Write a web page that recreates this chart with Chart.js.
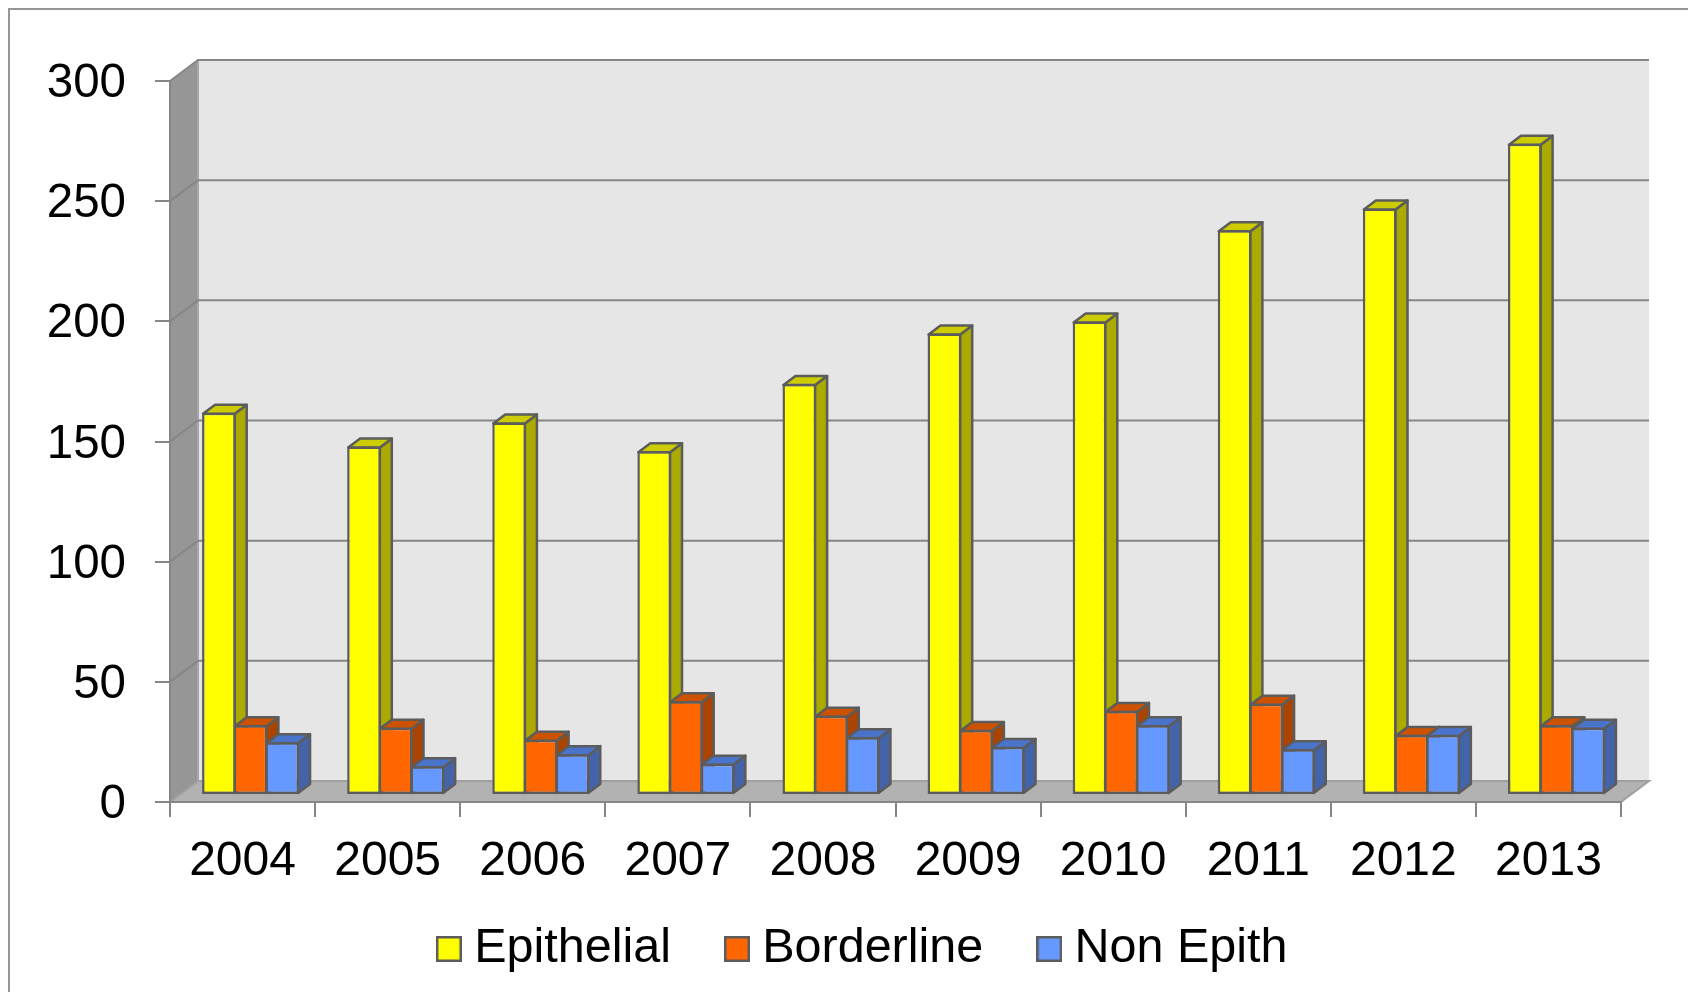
<!DOCTYPE html>
<html>
<head>
<meta charset="utf-8">
<title>Epithelial, Borderline, Non Epith 2004-2013</title>
<script src="https://cdn.jsdelivr.net/npm/chart.js@4/dist/chart.umd.min.js"></script>
<style>
  html, body { margin: 0; padding: 0; background: #fff; }
  canvas { display: block; }
</style>
</head>
<body>
<canvas id="myChart" width="1688" height="992"></canvas>
<script>
var years = ['2004', '2005', '2006', '2007', '2008', '2009', '2010', '2011', '2012', '2013'];
var epithelial = [159, 145, 155, 143, 171, 192, 197, 235, 244, 271];
var borderline = [29, 28, 23, 39, 33, 27, 35, 38, 25, 29];
var nonEpith = [22, 12, 17, 13, 24, 20, 29, 19, 25, 28];
var yTicks = [0, 50, 100, 150, 200, 250, 300];

var faceColors = ['#FFFF00', '#FF6600', '#6699FF'];
var sideColors = ['#AAAA00', '#AA4400', '#4464AA'];
var topColors = ['#CCCC00', '#CC5200', '#4A74CC'];
var edge = '#5C5C5C';
var gridColor = '#868686';
var font = 'Liberation Sans, Arial, sans-serif';

// depth of the box and of the bars, in pixels
var wallDx = 28, wallDy = -21;
var barOffX = 8, barOffY = -7;
var barDx = 12, barDy = -9;

function swatch(color) {
  var c = document.createElement('canvas');
  c.width = 26;
  c.height = 26;
  var g = c.getContext('2d');
  g.fillStyle = color;
  g.fillRect(0, 0, 26, 26);
  g.strokeStyle = edge;
  g.lineWidth = 2.5;
  g.strokeRect(1.25, 1.25, 23.5, 23.5);
  return c;
}

function poly(ctx, pts, fill, stroke) {
  ctx.beginPath();
  ctx.moveTo(pts[0][0], pts[0][1]);
  for (var i = 1; i < pts.length; i++) ctx.lineTo(pts[i][0], pts[i][1]);
  ctx.closePath();
  ctx.fillStyle = fill;
  ctx.fill();
  if (stroke) {
    ctx.strokeStyle = stroke;
    ctx.lineWidth = 2.5;
    ctx.lineJoin = 'round';
    ctx.stroke();
  }
}

var box3d = {
  id: 'box3d',
  afterLayout: function (chart) {
    // the legend sits further right and higher than chart.js would put it
    var l = chart.legend;
    l.left += 37.2;
    l.right += 37.2;
    l.top -= 27.25;
    l.bottom -= 27.25;

    // y labels are centred on the digits in the original, not on the line box
    var s = chart.scales.y, drawLabels = s.drawLabels;
    s.drawLabels = function (area) {
      chart.ctx.save();
      chart.ctx.translate(0, 3);
      drawLabels.call(s, area);
      chart.ctx.restore();
    };
  },
  beforeDraw: function (chart) {
    var ctx = chart.ctx, a = chart.chartArea, y = chart.scales.y;
    ctx.save();

    // outer frame, open on the right and at the bottom
    ctx.strokeStyle = '#969696';
    ctx.lineWidth = 2;
    ctx.beginPath();
    ctx.moveTo(9, chart.height);
    ctx.lineTo(9, 9);
    ctx.lineTo(chart.width, 9);
    ctx.stroke();

    var bx = a.left + wallDx, tx = a.right + wallDx;
    var by = a.bottom + wallDy, ty = a.top + wallDy;
    poly(ctx, [[bx, ty], [tx, ty], [tx, by], [bx, by]], '#E6E6E6');
    poly(ctx, [[a.left, a.top], [bx, ty], [bx, by], [a.left, a.bottom]], '#969696');
    poly(ctx, [[a.left, a.bottom], [bx, by], [tx, by], [a.right, a.bottom]], '#B2B2B2');

    ctx.strokeStyle = '#A6A6A6';
    ctx.beginPath();
    ctx.moveTo(bx, ty);
    ctx.lineTo(bx, by);
    ctx.stroke();

    yTicks.forEach(function (v) {
      var p = y.getPixelForValue(v);
      ctx.strokeStyle = v === 0 ? '#A0A0A0' : gridColor;
      ctx.lineWidth = 2;
      ctx.beginPath();
      ctx.moveTo(a.left, p);
      ctx.lineTo(bx, p + wallDy);
      ctx.lineTo(tx, p + wallDy);
      if (v === 0) ctx.lineTo(a.right, p);
      ctx.stroke();
    });
    ctx.restore();
  },
  // tops and sides go left to right, chart.js then paints the fronts over them
  beforeDatasetsDraw: function (chart) {
    var ctx = chart.ctx;
    ctx.save();
    ctx.translate(barOffX, barOffY);
    chart.data.datasets.forEach(function (ds, i) {
      chart.getDatasetMeta(i).data.forEach(function (bar) {
        var p = bar.getProps(['x', 'y', 'base', 'width'], true);
        var l = p.x - p.width / 2 + 1, r = p.x + p.width / 2 - 1;
        poly(ctx, [[r, p.y + 1], [r + barDx, p.y + 1 + barDy], [r + barDx, p.base - 1 + barDy], [r, p.base - 1]], sideColors[i], edge);
        poly(ctx, [[l, p.y + 1], [l + barDx, p.y + 1 + barDy], [r + barDx, p.y + 1 + barDy], [r, p.y + 1]], topColors[i], edge);
      });
    });
    ctx.restore();
  },
  beforeDatasetDraw: function (chart) {
    chart.ctx.save();
    chart.ctx.translate(barOffX, barOffY);
  },
  afterDatasetDraw: function (chart) {
    chart.ctx.restore();
  }
};

var ctx = document.getElementById('myChart').getContext('2d');
var myChart = new Chart(ctx, {
  type: 'bar',
  data: {
    labels: years,
    datasets: [{
      label: 'Epithelial',
      data: epithelial,
      backgroundColor: faceColors[0]
    }, {
      label: 'Borderline',
      data: borderline,
      backgroundColor: faceColors[1]
    }, {
      label: 'Non Epith',
      data: nonEpith,
      backgroundColor: faceColors[2]
    }]
  },
  plugins: [box3d],
  options: {
    responsive: false,
    animation: false,
    clip: false,
    layout: { padding: { left: 40, right: 67, top: 81, bottom: -18.5 } },
    datasets: {
      bar: {
        categoryPercentage: 0.6547,
        barPercentage: 1.063,
        borderColor: edge,
        borderWidth: 2.5,
        borderSkipped: false
      }
    },
    plugins: {
      tooltip: { enabled: false },
      legend: {
        position: 'bottom',
        labels: {
          color: '#000',
          font: { family: font, size: 48.5, lineHeight: 1 },
          usePointStyle: true,
          boxWidth: 2,
          padding: 65,
          generateLabels: function (chart) {
            return Chart.defaults.plugins.legend.labels.generateLabels(chart).map(function (item, i) {
              item.pointStyle = swatch(faceColors[i]);
              return item;
            });
          }
        }
      }
    },
    scales: {
      x: {
        afterFit: function (s) { s.height = 85; },
        grid: { offset: true, drawOnChartArea: false, tickLength: 15, color: gridColor, lineWidth: 2 },
        border: { color: gridColor, width: 2 },
        ticks: { color: '#000', font: { family: font, size: 48, lineHeight: 1 }, padding: 21, maxRotation: 0, autoSkip: false }
      },
      y: {
        min: 0,
        max: 300,
        afterFit: function (s) { s.width = 130; },
        afterBuildTicks: function (s) { s.ticks = yTicks.map(function (v) { return { value: v }; }); },
        grid: { drawOnChartArea: false, tickLength: 15, color: gridColor, lineWidth: 2 },
        border: { color: gridColor, width: 2 },
        ticks: { color: '#000', font: { family: font, size: 47.5, lineHeight: 1 }, padding: 29 }
      }
    }
  }
});
</script>
</body>
</html>
